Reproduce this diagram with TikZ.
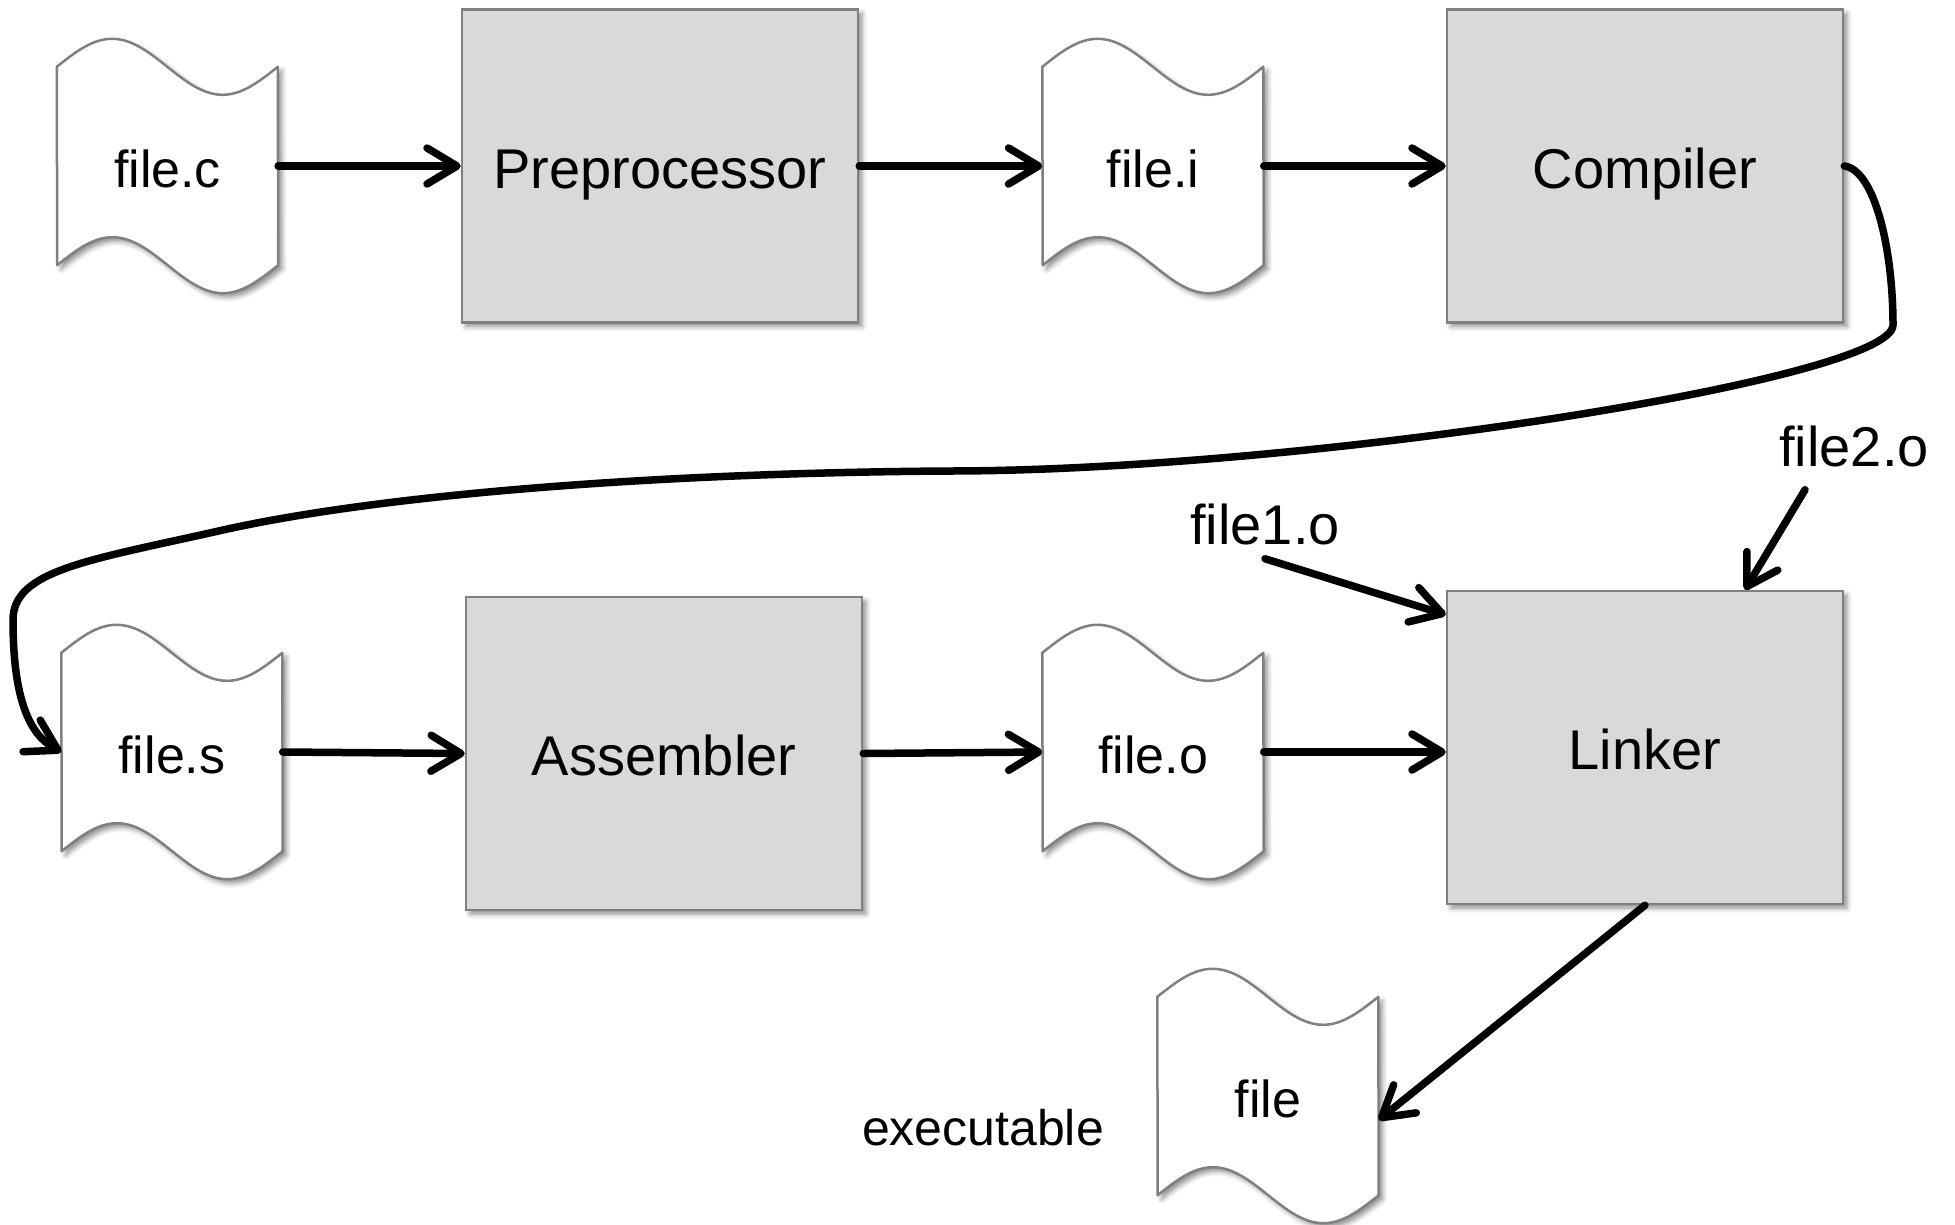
\documentclass[tikz,border=0pt]{standalone}
\usepackage{fontspec}
\setmainfont{Liberation Sans}
\usetikzlibrary{arrows.meta,shadows.blur,backgrounds}

\definecolor{boxfill}{HTML}{D9D9D9}
\definecolor{edgegray}{HTML}{808080}

\tikzset{
  softshadow/.style={blur shadow={shadow xshift=4pt, shadow yshift=-4pt,
      shadow blur radius=5pt, shadow opacity=45}},
  stagebox/.style={rectangle, draw=edgegray, line width=2.5pt, fill=boxfill,
      minimum width=396pt, minimum height=313pt, inner sep=0pt,
      font=\fontsize{56}{60}\selectfont, text height=44pt, text depth=0pt,
      softshadow},
  tapenode/.style={rectangle, minimum width=221pt, minimum height=198pt,
      inner sep=0pt, font=\fontsize{52}{56}\selectfont,
      text height=42pt, text depth=0pt},
  tapeline/.style={draw=edgegray, line width=2.5pt, fill=white,
      line join=round, softshadow},
  flow/.style={line width=7.5pt, line cap=round, line join=round,
      -{Straight Barb[length=30pt,width=36pt,round]}},
  tag/.style={inner sep=0pt, font=\fontsize{56}{60}\selectfont},
}

% punched-tape outline (one sine period on top and bottom) around a tape node
\newcommand\tapeoutline[1]{%
  \path[tapeline] (#1.north west)
    sin ++(55.25,28) cos ++(55.25,-28) sin ++(55.25,-28) cos ++(55.25,28)
    -- (#1.south east)
    sin ++(-55.25,-28) cos ++(-55.25,28) sin ++(-55.25,28) cos ++(-55.25,-28)
    -- cycle;}

\begin{document}
\begin{tikzpicture}[x=1pt,y=1pt]
  \useasboundingbox (0,0) rectangle (1955,-1224);

  % processing stages
  \node[stagebox] (pp) at (660,-166)    {Preprocessor};
  \node[stagebox] (cp) at (1645,-166)   {Compiler};
  \node[stagebox] (as) at (664,-753.5)  {Assembler};
  \node[stagebox] (lk) at (1645,-747.5) {Linker};

  % files
  \node[tapenode] (fc) at (167.5,-166) {file.c};
  \node[tapenode] (fi) at (1153,-166)  {file.i};
  \node[tapenode] (fs) at (172,-752)   {file.s};
  \node[tapenode] (fo) at (1153,-752)  {file.o};
  \node[tapenode] (fx) at (1268,-1096) {file};

  \begin{scope}[on background layer]
    \tapeoutline{fc}
    \tapeoutline{fi}
    \tapeoutline{fs}
    \tapeoutline{fo}
    \tapeoutline{fx}
  \end{scope}

  % extra linker inputs and the output caption
  \node[tag] (f1) at (1265,-524) {file1.o};
  \node[tag] (f2) at (1854,-446) {file2.o};
  \node[tag, font=\fontsize{50}{54}\selectfont] (ex) at (983,-1128) {executable};

  % data flow
  \draw[flow] (fc.east) -- (pp.west);
  \draw[flow] (pp.east) -- (fi.west);
  \draw[flow] (fi.east) -- (cp.west);
  \draw[flow] (cp.east)
      .. controls (1875,-170) and (1893,-250) .. (1893,-325)
      .. controls (1893,-380) and (1300,-471) .. (948,-471)
      .. controls (650,-473) and (380,-495) .. (223,-530)
      .. controls (90,-560) and (13,-570) .. (13,-620)
      .. controls (13,-700) and (30,-735) .. (fs.west);
  \draw[flow] (fs.east) -- (as.west);
  \draw[flow] (as.east) -- (fo.west);
  \draw[flow] (fo.east) -- (fo.east -| lk.west);
  \draw[flow] ([yshift=-14pt]f1.south) -- ([yshift=-25pt]lk.north west);
  \draw[flow] ([shift={(-49pt,-23pt)}]f2.south) -- ([xshift=100pt]lk.north);
  \draw[flow] (lk.south) -- ([yshift=-24pt]fx.east);
\end{tikzpicture}
\end{document}
